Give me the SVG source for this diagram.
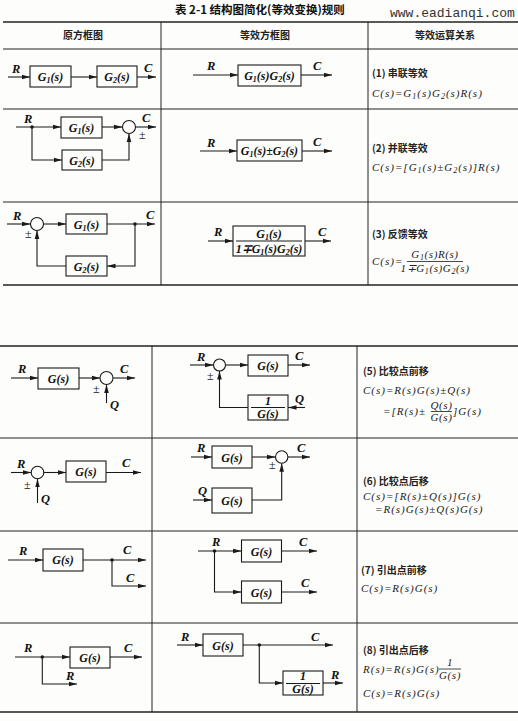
<svg xmlns="http://www.w3.org/2000/svg" width="518" height="721" viewBox="0 0 518 721">
<defs>
<marker id="ah" markerWidth="9" markerHeight="6" refX="8.5" refY="3" orient="auto" markerUnits="userSpaceOnUse">
<path d="M0,0.7 L8.5,3 L0,5.3 z" fill="#1a1a1a"/>
</marker>
</defs>
<style>
.tb{stroke:#222;stroke-width:1;fill:none}
.tb2{stroke:#222;stroke-width:1.6;fill:none}
.ln{stroke:#1a1a1a;stroke-width:1.1;fill:none}
.ar{stroke:#1a1a1a;stroke-width:1.1;fill:none;marker-end:url(#ah)}
.bx{fill:none;stroke:#1a1a1a;stroke-width:1.1}
.dot{fill:#1a1a1a}
.v{font-family:"Liberation Serif",serif;font-style:italic;font-weight:bold;font-size:12.5px;fill:#111}
.g{font-family:"Liberation Serif",serif;font-style:italic;font-weight:bold;font-size:12px;fill:#111;text-anchor:middle}
.pm{font-family:"Liberation Serif",serif;font-size:12px;fill:#111}
.cn{font-family:"Noto Sans CJK SC",sans-serif;font-weight:bold;font-size:10px;fill:#222}
.hd{font-family:"Noto Sans CJK SC",sans-serif;font-weight:bold;font-size:10px;fill:#222;text-anchor:middle}
.tt{font-family:"Noto Sans CJK SC",sans-serif;font-weight:bold;font-size:11.5px;fill:#111}
.url{font-family:"Liberation Mono",monospace;font-size:13px;fill:#333}
.fm{font-family:"Liberation Serif",serif;font-style:italic;font-size:11px;letter-spacing:1px;fill:#222}
.fc{font-family:"Liberation Serif",serif;font-style:italic;font-size:11px;letter-spacing:0.6px;fill:#222;text-anchor:middle}
.sb{font-size:8px}
</style>
<rect x="0" y="0" width="518" height="721" fill="#fdfdfb"/>

<g id="title">
<text class="tt" x="175" y="14">表 2-1   结构图简化(等效变换)规则</text>
<text class="url" x="390" y="17">www.eadianqi.com</text>
</g>

<g id="table">
<line class="tb2" x1="3" y1="22" x2="518" y2="22"/>
<line class="tb" x1="3" y1="49" x2="518" y2="49"/>
<line class="tb" x1="3" y1="109" x2="518" y2="109"/>
<line class="tb" x1="3" y1="202" x2="518" y2="202"/>
<line class="tb2" x1="3" y1="285" x2="518" y2="285"/>
<line class="tb" x1="161" y1="22" x2="161" y2="285"/>
<line class="tb" x1="368" y1="22" x2="368" y2="285"/>
<line class="tb2" x1="0" y1="346" x2="518" y2="346"/>
<line class="tb" x1="0" y1="438" x2="518" y2="438"/>
<line class="tb" x1="0" y1="531" x2="518" y2="531"/>
<line class="tb" x1="0" y1="623" x2="518" y2="623"/>
<line class="tb2" x1="0" y1="712" x2="518" y2="712"/>
<line class="tb" x1="152" y1="346" x2="152" y2="712"/>
<line class="tb" x1="357" y1="346" x2="357" y2="712"/>
<text class="hd" x="83" y="39">原方框图</text>
<text class="hd" x="265" y="39">等效方框图</text>
<text class="hd" x="445" y="39">等效运算关系</text>
</g>

<!-- Row 1 -->
<g id="r1-g1"><rect class="bx" x="30" y="66" width="41" height="21"/><text class="g" x="50.5" y="81">G<tspan class="sb" dy="2">1</tspan><tspan dy="-2">(s)</tspan></text></g>
<g id="r1-g2"><rect class="bx" x="97" y="66" width="40" height="21"/><text class="g" x="117" y="81">G<tspan class="sb" dy="2">2</tspan><tspan dy="-2">(s)</tspan></text></g>
<g id="r1-eq"><rect class="bx" x="238" y="65" width="63" height="21"/><text class="g" x="269.5" y="80">G<tspan class="sb" dy="2">1</tspan><tspan dy="-2">(s)G</tspan><tspan class="sb" dy="2">2</tspan><tspan dy="-2">(s)</tspan></text></g>

<!-- Row 2 -->
<g id="r2-g1"><rect class="bx" x="61" y="117" width="41" height="21"/><text class="g" x="81.5" y="132">G<tspan class="sb" dy="2">1</tspan><tspan dy="-2">(s)</tspan></text></g>
<g id="r2-g2"><rect class="bx" x="62" y="150" width="40" height="20"/><text class="g" x="82" y="164.5">G<tspan class="sb" dy="2">2</tspan><tspan dy="-2">(s)</tspan></text></g>
<g id="r2-sum"><circle class="bx" cx="129" cy="127" r="6.5"/></g>
<g id="r2-eq"><rect class="bx" x="237" y="140" width="65" height="21"/><text class="g" x="269.5" y="155">G<tspan class="sb" dy="2">1</tspan><tspan dy="-2">(s)±G</tspan><tspan class="sb" dy="2">2</tspan><tspan dy="-2">(s)</tspan></text></g>

<!-- Row 3 -->
<g id="r3-sum"><circle class="bx" cx="37" cy="224" r="6.5"/></g>
<g id="r3-g1"><rect class="bx" x="66" y="214" width="41" height="20"/><text class="g" x="86.5" y="228.5">G<tspan class="sb" dy="2">1</tspan><tspan dy="-2">(s)</tspan></text></g>
<g id="r3-g2"><rect class="bx" x="66" y="256" width="41" height="20"/><text class="g" x="86.5" y="270.5">G<tspan class="sb" dy="2">2</tspan><tspan dy="-2">(s)</tspan></text></g>
<g id="r3-eq"><rect class="bx" x="233" y="226" width="72" height="30"/>
<text class="g" x="269" y="237.5">G<tspan class="sb" dy="2">1</tspan><tspan dy="-2">(s)</tspan></text>
<line class="ln" x1="236" y1="241" x2="302" y2="241"/>
<text class="g" x="269" y="252.5">1∓G<tspan class="sb" dy="2">1</tspan><tspan dy="-2">(s)G</tspan><tspan class="sb" dy="2">2</tspan><tspan dy="-2">(s)</tspan></text></g>

<!-- Row 5 -->
<g id="r5-g"><rect class="bx" x="38" y="368" width="41" height="21"/><text class="g" x="58.5" y="382.5">G(s)</text></g>
<g id="r5-sum"><circle class="bx" cx="106.5" cy="378" r="6.5"/></g>
<g id="r5e-sum"><circle class="bx" cx="219.5" cy="365" r="6"/></g>
<g id="r5e-g"><rect class="bx" x="248" y="355" width="40" height="21"/><text class="g" x="268" y="369.5">G(s)</text></g>
<g id="r5e-inv"><rect class="bx" x="248" y="395" width="40" height="25"/><text class="g" x="268" y="404.5">1</text><line class="ln" x1="251" y1="407.5" x2="285" y2="407.5"/><text class="g" x="268" y="418">G(s)</text></g>

<!-- Row 6 -->
<g id="r6-sum"><circle class="bx" cx="37.5" cy="472.5" r="6.3"/></g>
<g id="r6-g"><rect class="bx" x="66" y="461" width="40" height="21"/><text class="g" x="86" y="476">G(s)</text></g>
<g id="r6e-g1"><rect class="bx" x="212" y="446" width="40" height="22"/><text class="g" x="232" y="461.5">G(s)</text></g>
<g id="r6e-g2"><rect class="bx" x="212" y="488" width="40" height="25"/><text class="g" x="232" y="504.5">G(s)</text></g>
<g id="r6e-sum"><circle class="bx" cx="281.7" cy="457" r="6.2"/></g>

<!-- Row 7 -->
<g id="r7-g"><rect class="bx" x="43" y="549" width="40" height="22"/><text class="g" x="63" y="564">G(s)</text></g>
<g id="r7e-g1"><rect class="bx" x="241.5" y="540" width="40" height="22"/><text class="g" x="261.5" y="555.5">G(s)</text></g>
<g id="r7e-g2"><rect class="bx" x="241.5" y="581" width="40" height="22"/><text class="g" x="261.5" y="596.5">G(s)</text></g>

<!-- Row 8 -->
<g id="r8-g"><rect class="bx" x="70" y="647" width="40" height="21"/><text class="g" x="90" y="661.5">G(s)</text></g>
<g id="r8e-g"><rect class="bx" x="203" y="634" width="40" height="22"/><text class="g" x="223" y="649.5">G(s)</text></g>
<g id="r8e-inv"><rect class="bx" x="283" y="671" width="40" height="24"/><text class="g" x="303" y="680">1</text><line class="ln" x1="286" y1="683.5" x2="320" y2="683.5"/><text class="g" x="303" y="693">G(s)</text></g>

<g id="connectors">
<!-- row1 -->
<line class="ar" x1="8" y1="77" x2="30" y2="77"/>
<line class="ar" x1="71" y1="77" x2="97" y2="77"/>
<line class="ar" x1="137" y1="77" x2="156" y2="77"/>
<line class="ar" x1="193" y1="75" x2="238" y2="75"/>
<line class="ar" x1="301" y1="75" x2="332" y2="75"/>
<!-- row2 -->
<line class="ar" x1="16" y1="127" x2="61" y2="127"/>
<circle class="dot" cx="32" cy="127" r="1.8"/>
<line class="ar" x1="102" y1="127" x2="122.5" y2="127"/>
<line class="ar" x1="135.5" y1="127" x2="156" y2="127"/>
<polyline class="ar" points="32,127 32,160 62,160"/>
<polyline class="ar" points="102,160 129,160 129,133.5"/>
<line class="ar" x1="200" y1="151" x2="237" y2="151"/>
<line class="ar" x1="302" y1="151" x2="332" y2="151"/>
<!-- row3 -->
<line class="ar" x1="7" y1="224" x2="30.5" y2="224"/>
<line class="ar" x1="43.5" y1="224" x2="66" y2="224"/>
<line class="ar" x1="107" y1="224" x2="155" y2="224"/>
<circle class="dot" cx="135" cy="224" r="1.8"/>
<polyline class="ar" points="135,224 135,266 107,266"/>
<polyline class="ar" points="66,266 37,266 37,230.5"/>
<line class="ar" x1="208" y1="241" x2="233" y2="241"/>
<line class="ar" x1="305" y1="241" x2="331" y2="241"/>
<!-- row5 -->
<line class="ar" x1="11" y1="378" x2="38" y2="378"/>
<line class="ar" x1="79" y1="378" x2="100" y2="378"/>
<line class="ar" x1="113" y1="378" x2="135" y2="378"/>
<line class="ar" x1="106.5" y1="403" x2="106.5" y2="384.5"/>
<line class="ar" x1="190" y1="365" x2="213.5" y2="365"/>
<line class="ar" x1="225.5" y1="365" x2="248" y2="365"/>
<line class="ar" x1="288" y1="365" x2="310" y2="365"/>
<line class="ar" x1="305" y1="407.5" x2="288" y2="407.5"/>
<polyline class="ar" points="248,407.5 219.5,407.5 219.5,371"/>
<!-- row6 -->
<line class="ar" x1="11" y1="472.5" x2="31.2" y2="472.5"/>
<line class="ar" x1="43.8" y1="472.5" x2="66" y2="472.5"/>
<line class="ar" x1="106" y1="472.5" x2="141" y2="472.5"/>
<line class="ar" x1="37.5" y1="503" x2="37.5" y2="478.8"/>
<line class="ar" x1="191" y1="457" x2="212" y2="457"/>
<line class="ar" x1="252" y1="457" x2="275.5" y2="457"/>
<line class="ar" x1="288" y1="457" x2="310" y2="457"/>
<line class="ar" x1="193" y1="500" x2="212" y2="500"/>
<polyline class="ar" points="252,500 281.7,500 281.7,463.2"/>
<!-- row7 -->
<line class="ar" x1="8" y1="560" x2="43" y2="560"/>
<line class="ar" x1="83" y1="560" x2="146" y2="560"/>
<circle class="dot" cx="112" cy="560" r="1.8"/>
<polyline class="ar" points="112,560 112,586 146,586"/>
<line class="ar" x1="198" y1="551" x2="241.5" y2="551"/>
<circle class="dot" cx="214.5" cy="551" r="1.8"/>
<line class="ar" x1="281.5" y1="551" x2="317" y2="551"/>
<polyline class="ar" points="214.5,551 214.5,592 241.5,592"/>
<line class="ar" x1="281.5" y1="592" x2="317" y2="592"/>
<!-- row8 -->
<line class="ar" x1="15" y1="657" x2="70" y2="657"/>
<circle class="dot" cx="42.3" cy="657" r="1.8"/>
<line class="ar" x1="110" y1="657" x2="142" y2="657"/>
<polyline class="ar" points="42.3,657 42.3,684 77,684"/>
<line class="ar" x1="177" y1="645" x2="203" y2="645"/>
<line class="ar" x1="243" y1="645" x2="333" y2="645"/>
<circle class="dot" cx="259.3" cy="645" r="1.8"/>
<polyline class="ar" points="259.3,645 259.3,683 283,683"/>
<line class="ar" x1="323" y1="683" x2="343" y2="683"/>
</g>

<g id="labels">
<text class="v" x="12" y="73">R</text><text class="v" x="144" y="72">C</text>
<text class="v" x="207" y="70">R</text><text class="v" x="313" y="70">C</text>
<text class="v" x="24" y="123">R</text><text class="v" x="142" y="122">C</text><text class="pm" x="139" y="139">±</text>
<text class="v" x="207" y="147">R</text><text class="v" x="313" y="146">C</text>
<text class="v" x="13" y="220">R</text><text class="v" x="146" y="219">C</text><text class="pm" x="25" y="238">±</text>
<text class="v" x="214" y="236">R</text><text class="v" x="318" y="236">C</text>
<text class="v" x="18" y="373">R</text><text class="v" x="120" y="373">C</text><text class="pm" x="93" y="393">±</text><text class="v" x="110" y="409">Q</text>
<text class="v" x="197" y="361">R</text><text class="v" x="295" y="360">C</text><text class="pm" x="207" y="380">±</text><text class="v" x="295" y="403">Q</text>
<text class="v" x="17" y="468">R</text><text class="v" x="122" y="467">C</text><text class="pm" x="24" y="489">±</text><text class="v" x="41" y="503">Q</text>
<text class="v" x="197" y="452">R</text><text class="v" x="297" y="452">C</text><text class="pm" x="269" y="469">±</text><text class="v" x="198" y="495">Q</text>
<text class="v" x="19" y="555">R</text><text class="v" x="123" y="554">C</text><text class="v" x="126" y="582">C</text>
<text class="v" x="212" y="546">R</text><text class="v" x="299" y="546">C</text><text class="v" x="301" y="587">C</text>
<text class="v" x="24" y="652">R</text><text class="v" x="124" y="652">C</text><text class="v" x="66" y="680">R</text>
<text class="v" x="181" y="641">R</text><text class="v" x="311" y="641">C</text><text class="v" x="331" y="679">R</text>
</g>

<g id="relations">
<text class="cn" x="372" y="77">(1) 串联等效</text>
<text class="fm" x="372" y="97">C(s)=G<tspan class="sb" dy="2">1</tspan><tspan dy="-2">(s)G</tspan><tspan class="sb" dy="2">2</tspan><tspan dy="-2">(s)R(s)</tspan></text>
<text class="cn" x="372" y="152">(2) 并联等效</text>
<text class="fm" x="372" y="171">C(s)=[G<tspan class="sb" dy="2">1</tspan><tspan dy="-2">(s)±G</tspan><tspan class="sb" dy="2">2</tspan><tspan dy="-2">(s)]R(s)</tspan></text>
<text class="cn" x="372" y="238">(3) 反馈等效</text>
<text class="fm" x="372" y="265">C(s)=</text>
<text class="fc" x="435" y="258">G<tspan class="sb" dy="2">1</tspan><tspan dy="-2">(s)R(s)</tspan></text>
<line class="ln" x1="407" y1="261.5" x2="463" y2="261.5" style="stroke-width:0.8"/>
<text class="fc" x="435" y="272">1∓G<tspan class="sb" dy="2">1</tspan><tspan dy="-2">(s)G</tspan><tspan class="sb" dy="2">2</tspan><tspan dy="-2">(s)</tspan></text>

<text class="cn" x="363" y="375">(5) 比较点前移</text>
<text class="fm" x="363" y="394">C(s)=R(s)G(s)±Q(s)</text>
<text class="fm" x="383" y="415">=[R(s)±</text>
<text class="fc" x="441.5" y="409">Q(s)</text>
<line class="ln" x1="431" y1="411.5" x2="452" y2="411.5" style="stroke-width:0.8"/>
<text class="fc" x="441.5" y="421">G(s)</text>
<text class="fm" x="453" y="415">]G(s)</text>

<text class="cn" x="363" y="485">(6) 比较点后移</text>
<text class="fm" x="363" y="500">C(s)=[R(s)±Q(s)]G(s)</text>
<text class="fm" x="375" y="513">=R(s)G(s)±Q(s)G(s)</text>

<text class="cn" x="361" y="574">(7) 引出点前移</text>
<text class="fm" x="361" y="592">C(s)=R(s)G(s)</text>

<text class="cn" x="363" y="654">(8) 引出点后移</text>
<text class="fm" x="363" y="673">R(s)=R(s)G(s)</text>
<text class="fc" x="450" y="666">1</text>
<line class="ln" x1="439" y1="669" x2="461" y2="669" style="stroke-width:0.8"/>
<text class="fc" x="450" y="679">G(s)</text>
<text class="fm" x="363" y="697">C(s)=R(s)G(s)</text>
</g>
</svg>
